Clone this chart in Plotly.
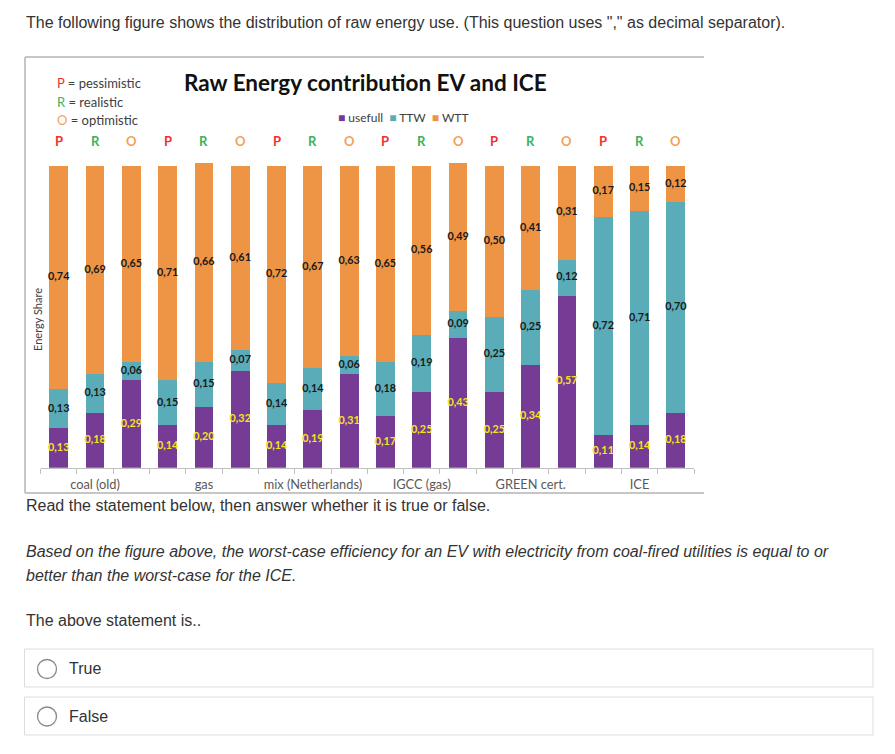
import plotly.graph_objects as go

# page is rendered with the browser's default 8px body margin, so the figure is
# shrunk by that amount and every position is measured from the window corner
OFF = 8
W, H = 895 - OFF, 754 - OFF

# ---------------- data ----------------
groups = ["coal (old)", "gas", "mix (Netherlands)", "IGCC (gas)", "GREEN cert.", "ICE"]
scenarios = ["P", "R", "O"]
usefull = [0.13, 0.18, 0.29, 0.14, 0.20, 0.32, 0.14, 0.19, 0.31,
           0.17, 0.25, 0.43, 0.25, 0.34, 0.57, 0.11, 0.14, 0.18]
ttw = [0.13, 0.13, 0.06, 0.15, 0.15, 0.07, 0.14, 0.14, 0.06,
       0.18, 0.19, 0.09, 0.25, 0.25, 0.12, 0.72, 0.71, 0.70]
wtt = [0.74, 0.69, 0.65, 0.71, 0.66, 0.61, 0.72, 0.67, 0.63,
       0.65, 0.56, 0.49, 0.50, 0.41, 0.31, 0.17, 0.15, 0.12]
series_names = ["usefull", "TTW", "WTT"]

# ---------------- styles ----------------
C_USE, C_TTW, C_WTT = "#763b95", "#5aacb8", "#ee9445"
SC_COL = {"P": "#f0302c", "R": "#3cb35a", "O": "#f2a25c"}
CHART_FONT = "Lato"
PAGE_FONT = "Liberation Sans, Arial, sans-serif"
TXT = "#333333"


def X(px):
    return (px - OFF) / W


def Y(py):
    return 1 - (py - OFF) / H


n = len(usefull)
xs = list(range(n))
fmt = lambda v: f"{v:.2f}".replace(".", ",")

fig = go.Figure()
for name, vals, col in zip(series_names, [usefull, ttw, wtt], [C_USE, C_TTW, C_WTT]):
    fig.add_trace(go.Bar(x=xs, y=vals, name=name, marker=dict(color=col, line=dict(width=0)),
                         showlegend=False, hoverinfo="skip"))

# data labels centred in each segment
base = [0.0] * n
for vals, col in zip([usefull, ttw, wtt], ["#f3e61c", "#1a1a1a", "#1a1a1a"]):
    centers = [b + v / 2 for b, v in zip(base, vals)]
    fig.add_trace(go.Scatter(x=xs, y=centers, mode="text", text=[fmt(v) for v in vals],
                             textfont=dict(family=CHART_FONT, size=10.8, color=col, weight="bold"),
                             showlegend=False, hoverinfo="skip", cliponaxis=False))
    base = [b + v for b, v in zip(base, vals)]

y0px, scale = 467.7, 301.7
ytop = 1.02
fig.update_layout(
    width=W, height=H, margin=dict(l=0, r=0, t=0, b=0, autoexpand=False),
    paper_bgcolor="white", plot_bgcolor="white",
    barmode="stack", bargap=0.48,
    xaxis=dict(domain=[X(40.6), X(694)], range=[-0.5, n - 0.5],
               tickvals=[3 * i + 1 for i in range(len(groups))], ticktext=groups,
               ticks="", showgrid=False, zeroline=False,
               showline=True, linecolor="#bfbfbf", linewidth=1,
               tickfont=dict(family=CHART_FONT, size=12.8, color="#595959"),
               ticklabelstandoff=5,
               minor=dict(tickvals=[i - 0.5 for i in range(n + 1)], ticks="outside",
                          ticklen=5, tickcolor="#bfbfbf", tickwidth=1, showgrid=False)),
    yaxis=dict(domain=[Y(y0px), Y(y0px - ytop * scale)], range=[0, ytop],
               showticklabels=False, showgrid=False, zeroline=False, showline=False, ticks=""),
)


def text_at(px, py, text, font, xanchor="left", **kw):
    return dict(x=X(px), y=Y(py), xref="paper", yref="paper", xanchor=xanchor, yanchor="middle",
                showarrow=False, text=text, font=font, **kw)


ann = []
# scenario letters above bars
for i in xs:
    s = scenarios[i % 3]
    ann.append(dict(x=i, y=Y(141), xref="x", yref="paper", xanchor="center", yanchor="middle",
                    text=f"<b>{s}</b>", showarrow=False,
                    font=dict(family=CHART_FONT, size=13, color=SC_COL[s])))

# chart title and key
ann.append(text_at(365.5, 83, "<b>Raw Energy contribution EV and ICE</b>",
                   dict(family=CHART_FONT, size=22.5, color="#111111"), xanchor="center"))
legend_txt = "&nbsp;&nbsp;".join(
    f"<span style='color:{c}'>■</span>&nbsp;{nm}" for nm, c in zip(series_names, [C_USE, C_TTW, C_WTT]))
ann.append(text_at(403, 118, legend_txt, dict(family=CHART_FONT, size=12, color="#404040"),
                   xanchor="center"))
for k, (letter, word) in enumerate([("P", "pessimistic"), ("R", "realistic"), ("O", "optimistic")]):
    ann.append(text_at(55, 83 + 18.5 * k,
                       f"<span style='color:{SC_COL[letter]}'>{letter}</span> = {word}",
                       dict(family=CHART_FONT, size=13, color="#404040")))
ann.append(text_at(37, 320, "Energy Share", dict(family=CHART_FONT, size=11, color="#404040"),
                   xanchor="center", textangle=-90))

# page text
page_lines = [
    (22, 'The following figure shows the distribution of raw energy use. (This question uses "," as decimal separator).', False),
    (505, "Read the statement below, then answer whether it is true or false.", False),
    (551, "Based on the figure above, the worst-case efficiency for an EV with electricity from coal-fired utilities is equal to or", True),
    (575, "better than the worst-case for the ICE.", True),
    (620, "The above statement is..", False),
]
for py, t, it in page_lines:
    ann.append(text_at(24, py, f"<i>{t}</i>" if it else t, dict(family=PAGE_FONT, size=16, color=TXT)))
for py, t in [(668, "True"), (716, "False")]:
    ann.append(text_at(67, py, t, dict(family=PAGE_FONT, size=16, color=TXT)))

shapes = []
frame = dict(color="#c6c6c6", width=2)
shapes.append(dict(type="line", xref="paper", yref="paper", x0=X(25), x1=X(704), y0=Y(57), y1=Y(57), line=frame))
shapes.append(dict(type="line", xref="paper", yref="paper", x0=X(25), x1=X(704), y0=Y(493), y1=Y(493), line=frame))
shapes.append(dict(type="line", xref="paper", yref="paper", x0=X(25), x1=X(25), y0=Y(57), y1=Y(493), line=frame))
for top, bot, cy in [(649, 687, 669), (697, 735, 716.5)]:
    shapes.append(dict(type="rect", xref="paper", yref="paper", x0=X(24.5), x1=X(873), y0=Y(bot), y1=Y(top),
                       line=dict(color="#dddddd", width=1)))
    shapes.append(dict(type="circle", xref="paper", yref="paper", x0=X(37.5), x1=X(56.5),
                       y0=Y(cy + 9.5), y1=Y(cy - 9.5), line=dict(color="#8a8a8a", width=1.3)))

fig.update_layout(annotations=ann, shapes=shapes)
fig.write_html("out.html")
